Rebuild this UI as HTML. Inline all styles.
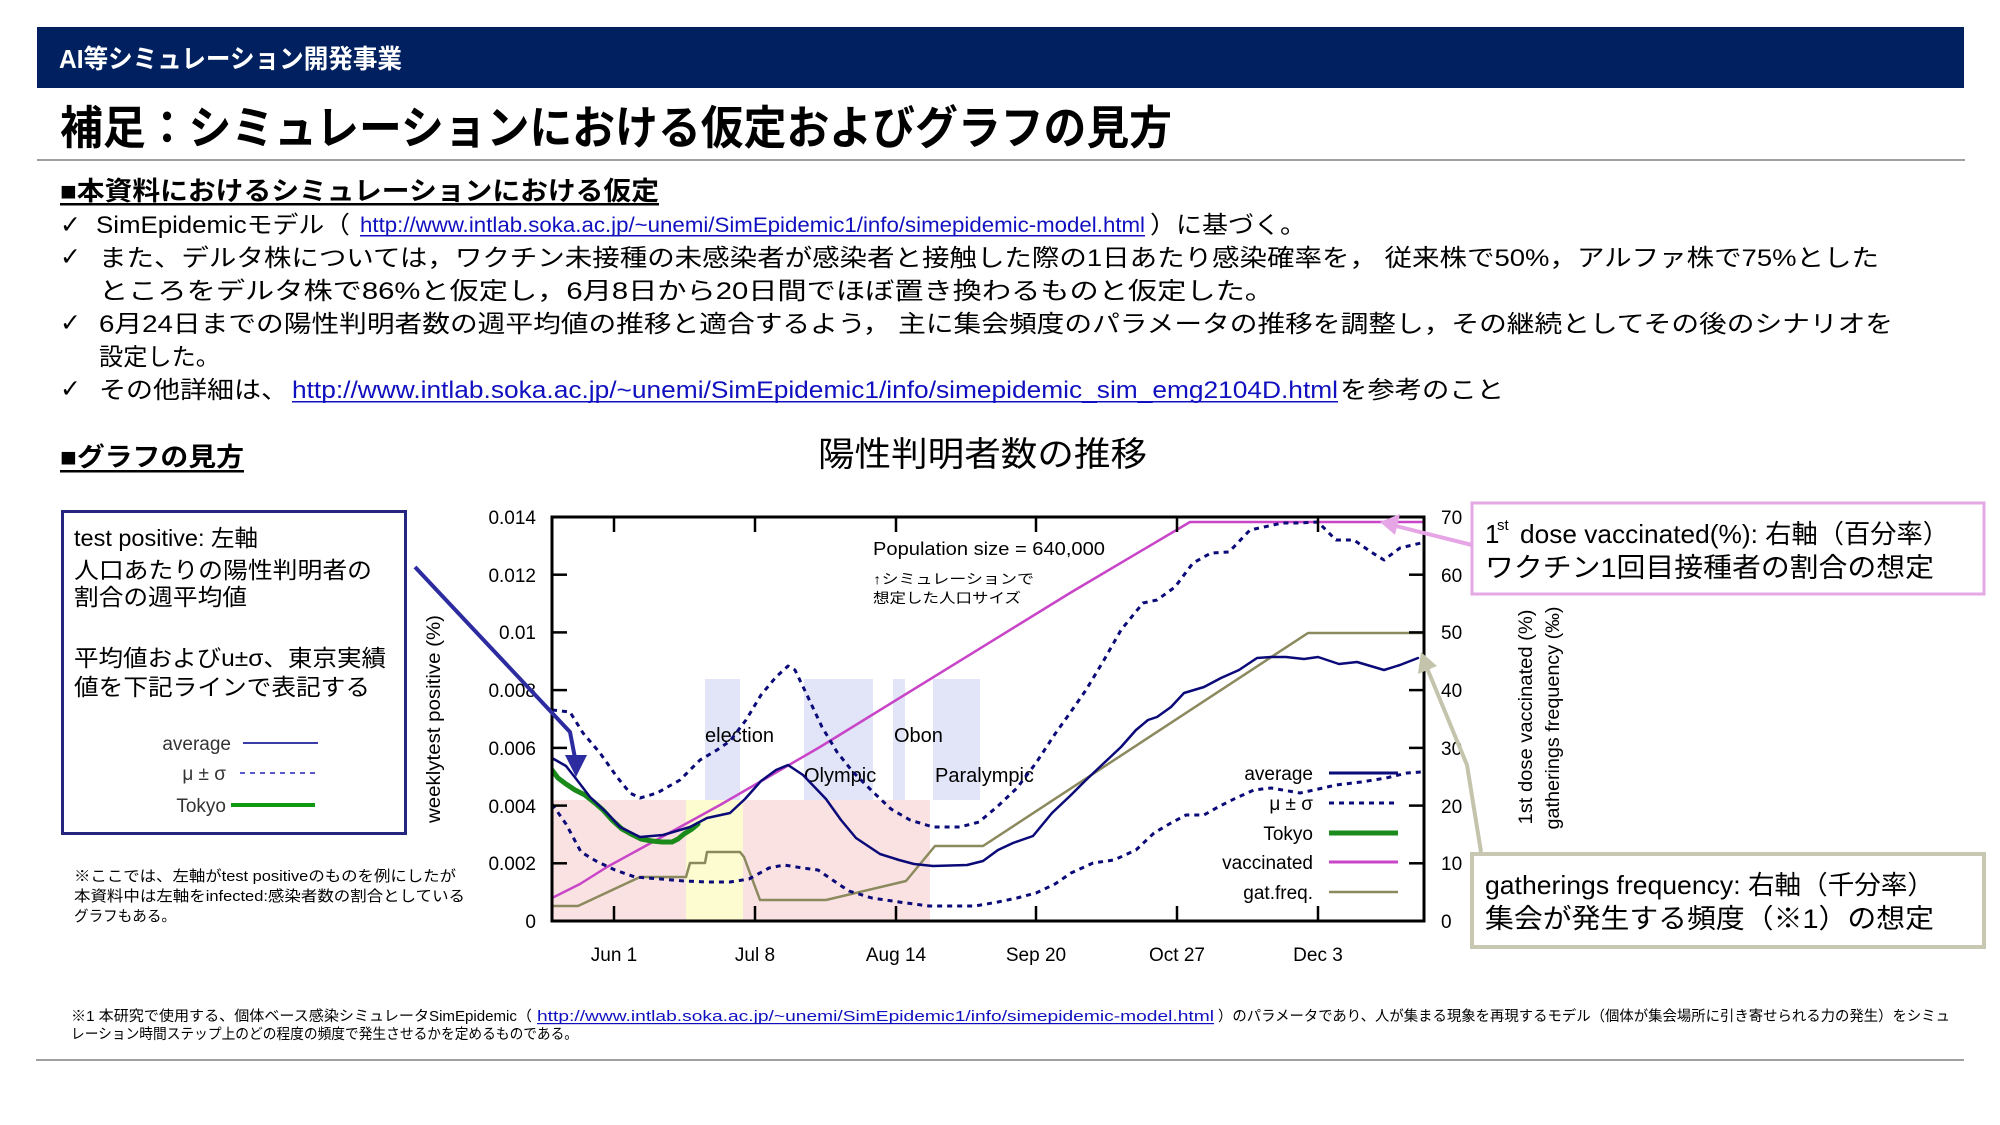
<!DOCTYPE html>
<html><head><meta charset="utf-8"><style>
html,body{margin:0;padding:0;background:#fff;}
svg{display:block;}
text{font-family:"Liberation Sans","Noto Sans CJK JP",sans-serif;}
</style></head><body>
<svg width="2000" height="1125" viewBox="0 0 2000 1125" xmlns="http://www.w3.org/2000/svg">
<rect x="0" y="0" width="2000" height="1125" fill="#fff"/>
<!-- header -->
<rect x="37" y="27" width="1927" height="61" fill="#002060"/>
<text x="59" y="68" font-size="26" font-weight="bold" fill="#fff" textLength="343" lengthAdjust="spacingAndGlyphs">AI等シミュレーション開発事業</text>
<text x="60" y="144" font-size="46" font-weight="bold" fill="#000" textLength="1112" lengthAdjust="spacingAndGlyphs">補足：シミュレーションにおける仮定およびグラフの見方</text>
<rect x="37" y="159" width="1928" height="2" fill="#a0a0a0"/>

<!-- section 1 -->
<text x="60" y="200" font-size="26" font-weight="bold" fill="#000" textLength="599" lengthAdjust="spacingAndGlyphs">■本資料におけるシミュレーションにおける仮定</text>
<rect x="60" y="203" width="599" height="2.5" fill="#000"/>

<g font-size="24" fill="#000">
<text x="60" y="233" font-size="25" font-weight="bold" style="font-family:'DejaVu Sans',sans-serif">✓</text>
<text x="96" y="233" textLength="254" lengthAdjust="spacingAndGlyphs">SimEpidemicモデル（</text>
<text x="360" y="232" font-size="21" fill="#1010c0" textLength="785" lengthAdjust="spacingAndGlyphs">http://www.intlab.soka.ac.jp/~unemi/SimEpidemic1/info/simepidemic-model.html</text>
<rect x="360" y="235" width="785" height="1.5" fill="#1010c0"/>
<text x="1150" y="233" textLength="156" lengthAdjust="spacingAndGlyphs">）に基づく。</text>

<text x="60" y="265" font-size="25" font-weight="bold" style="font-family:'DejaVu Sans',sans-serif">✓</text>
<text x="99" y="266" textLength="1780" lengthAdjust="spacingAndGlyphs">また、デルタ株については，ワクチン未接種の未感染者が感染者と接触した際の1日あたり感染確率を， 従来株で50%，アルファ株で75%とした</text>
<text x="99" y="299" textLength="1175" lengthAdjust="spacingAndGlyphs">ところをデルタ株で86%と仮定し，6月8日から20日間でほぼ置き換わるものと仮定した。</text>

<text x="60" y="331" font-size="25" font-weight="bold" style="font-family:'DejaVu Sans',sans-serif">✓</text>
<text x="99" y="332" textLength="1794" lengthAdjust="spacingAndGlyphs">6月24日までの陽性判明者数の週平均値の推移と適合するよう， 主に集会頻度のパラメータの推移を調整し，その継続としてその後のシナリオを</text>
<text x="99" y="365" textLength="121" lengthAdjust="spacingAndGlyphs">設定した。</text>

<text x="60" y="397" font-size="25" font-weight="bold" style="font-family:'DejaVu Sans',sans-serif">✓</text>
<text x="99" y="398" textLength="189" lengthAdjust="spacingAndGlyphs">その他詳細は、</text>
<text x="292" y="398" fill="#1010c0" textLength="1046" lengthAdjust="spacingAndGlyphs">http://www.intlab.soka.ac.jp/~unemi/SimEpidemic1/info/simepidemic_sim_emg2104D.html</text>
<rect x="292" y="401" width="1046" height="1.5" fill="#1010c0"/>
<text x="1340" y="398" textLength="164" lengthAdjust="spacingAndGlyphs">を参考のこと</text>
</g>

<!-- section 2 -->
<text x="60" y="466" font-size="26" font-weight="bold" fill="#000" textLength="184" lengthAdjust="spacingAndGlyphs">■グラフの見方</text>
<rect x="60" y="470" width="184" height="2.5" fill="#000"/>

<text x="818" y="466" font-size="34" fill="#000" textLength="329" lengthAdjust="spacingAndGlyphs">陽性判明者数の推移</text>

<!-- left box -->
<rect x="62.5" y="511.5" width="343" height="322" fill="#fff" stroke="#262680" stroke-width="3"/>
<g font-size="23" fill="#000">
<text x="74" y="546" textLength="184" lengthAdjust="spacingAndGlyphs">test positive: 左軸</text>
<text x="74" y="578" textLength="298" lengthAdjust="spacingAndGlyphs">人口あたりの陽性判明者の</text>
<text x="74" y="605" textLength="173" lengthAdjust="spacingAndGlyphs">割合の週平均値</text>
<text x="74" y="666" textLength="312" lengthAdjust="spacingAndGlyphs">平均値およびu±σ、東京実績</text>
<text x="74" y="695" textLength="296" lengthAdjust="spacingAndGlyphs">値を下記ラインで表記する</text>
</g>
<g font-size="19" fill="#333" text-anchor="end">
<text x="231" y="750">average</text>
<text x="226" y="780">μ ± σ</text>
<text x="226" y="812">Tokyo</text>
</g>
<line x1="243" y1="743" x2="318" y2="743" stroke="#3c3ca8" stroke-width="2"/>
<line x1="240" y1="773" x2="315" y2="773" stroke="#5a5ac8" stroke-width="2" stroke-dasharray="5 5"/>
<line x1="231" y1="805" x2="315" y2="805" stroke="#119911" stroke-width="4"/>

<g font-size="15" fill="#000">
<text x="74" y="881" textLength="382" lengthAdjust="spacingAndGlyphs">※ここでは、左軸がtest positiveのものを例にしたが</text>
<text x="74" y="901" textLength="391" lengthAdjust="spacingAndGlyphs">本資料中は左軸をinfected:感染者数の割合としている</text>
<text x="74" y="921" textLength="102" lengthAdjust="spacingAndGlyphs">グラフもある。</text>
</g>

<!-- axis titles -->
<text transform="translate(440,719) rotate(-90)" text-anchor="middle" font-size="19" fill="#000" textLength="208" lengthAdjust="spacingAndGlyphs">weeklytest positive (%)</text>
<text transform="translate(1532,717) rotate(-90)" text-anchor="middle" font-size="19" fill="#000" textLength="215" lengthAdjust="spacingAndGlyphs">1st dose vaccinated (%)</text>
<text transform="translate(1559,718) rotate(-90)" text-anchor="middle" font-size="19" fill="#000" textLength="223" lengthAdjust="spacingAndGlyphs">gatherings frequency (‰)</text>

<!-- chart regions -->
<defs><clipPath id="pc"><rect x="552" y="517" width="872" height="404"/></clipPath></defs>
<rect x="552" y="800" width="378" height="121" fill="#fbe2e2"/>
<rect x="686" y="800" width="57" height="121" fill="#fdfcd0"/>
<g fill="#e2e5f8">
<rect x="705" y="679" width="35" height="121"/>
<rect x="804" y="679" width="69" height="121"/>
<rect x="893" y="679" width="12" height="121"/>
<rect x="933" y="679" width="47" height="121"/>
</g>
<g font-size="20" fill="#000">
<text x="705" y="742">election</text>
<text x="804" y="782">Olympic</text>
<text x="894" y="742">Obon</text>
<text x="935" y="782">Paralympic</text>
</g>
<text x="873" y="555" font-size="18" fill="#000" textLength="232" lengthAdjust="spacingAndGlyphs">Population size = 640,000</text>
<text x="873" y="584" font-size="14" fill="#000" textLength="161" lengthAdjust="spacingAndGlyphs">↑シミュレーションで</text>
<text x="873" y="603" font-size="14" fill="#000" textLength="148" lengthAdjust="spacingAndGlyphs">想定した人口サイズ</text>

<!-- series -->
<g clip-path="url(#pc)" fill="none" stroke-linejoin="round" stroke-linecap="round">
<path d="M552,906 L578,906 L640,877 L686,877 L690,863 L705,863 L707,852 L740,852 L744,857 L760,900 L826,900 L906,881 L935,846 L983,846 L1308,633 L1424,633" stroke="#8b8a5e" stroke-width="2.5"/>
<path d="M552,898 L580,884 L607,867 L660,838 L720,805 L820,747 L1070,593 L1190,522 L1424,522" stroke="#c845c8" stroke-width="2.5"/>
<path d="M552,710 L570,712 L583,733 L600,753 L617,777 L630,793 L640,798 L657,793 L680,780 L700,760 L717,750 L730,741 L746,720 L761,695 L776,677 L788,666 L795,670 L807,695 L822,727 L837,752 L853,772 L872,791 L891,809 L910,820 L933,827 L960,827 L979,822 L998,806 L1017,788 L1036,763 L1055,734 L1070,713 L1086,690 L1104,660 L1121,630 L1143,603 L1157,600 L1175,587 L1193,563 L1211,553 L1229,552 L1250,530 L1264,527 L1282,523 L1300,523 L1318,522 L1336,540 L1354,540 L1371,552 L1384,560 L1400,548 L1421,543" stroke="#0a0a78" stroke-width="3" stroke-dasharray="5 5" stroke-linecap="butt"/>
<path d="M552,804 L566,824 L581,852 L596,861 L615,870 L635,877 L661,879 L684,881 L707,882 L730,882 L749,879 L769,868 L784,865 L803,868 L818,870 L834,881 L849,891 L872,898 L899,902 L929,906 L952,906 L975,906 L998,902 L1017,898 L1036,893 L1055,884 L1071,873 L1093,863 L1114,860 L1136,850 L1154,833 L1171,823 L1186,815 L1204,815 L1218,807 L1236,798 L1254,790 L1271,788 L1300,793 L1314,790 L1336,785 L1361,782 L1386,778 L1407,773 L1421,772" stroke="#0a0a78" stroke-width="3" stroke-dasharray="5 5" stroke-linecap="butt"/>
<path d="M552,770 L558,778 L566,784 L575,790 L585,795 L595,803 L603,810 L612,820 L622,829 L631,834 L641,839 L652,841 L662,842 L672,842 L678,839 L684,834 L692,829 L698,824" stroke="#1a8a1a" stroke-width="5"/>
<path d="M552,758 L566,766 L577,780 L590,797 L607,813 L620,827 L640,837 L663,835 L690,827 L707,818 L730,813 L745,799 L761,781 L776,770 L788,765 L803,775 L826,799 L841,820 L856,838 L880,854 L899,860 L914,864 L933,866 L967,865 L983,861 L998,850 L1013,843 L1033,836 L1052,813 L1071,795 L1086,780 L1104,763 L1121,747 L1136,730 L1148,720 L1157,717 L1171,707 L1184,693 L1204,687 L1221,678 L1239,670 L1257,658 L1271,657 L1286,657 L1304,659 L1318,657 L1339,664 L1357,662 L1384,670 L1400,665 L1418,658" stroke="#0a0a78" stroke-width="2.5"/>
</g>

<!-- axes -->
<rect x="552" y="517" width="872" height="404" fill="none" stroke="#000" stroke-width="3"/>
<g stroke="#000" stroke-width="2.5">
<line x1="552" y1="574.7" x2="567" y2="574.7"/><line x1="552" y1="632.4" x2="567" y2="632.4"/>
<line x1="552" y1="690.1" x2="567" y2="690.1"/><line x1="552" y1="747.9" x2="567" y2="747.9"/>
<line x1="552" y1="805.6" x2="567" y2="805.6"/><line x1="552" y1="863.3" x2="567" y2="863.3"/>
<line x1="1409" y1="574.7" x2="1424" y2="574.7"/><line x1="1409" y1="632.4" x2="1424" y2="632.4"/>
<line x1="1409" y1="690.1" x2="1424" y2="690.1"/><line x1="1409" y1="747.9" x2="1424" y2="747.9"/>
<line x1="1409" y1="805.6" x2="1424" y2="805.6"/><line x1="1409" y1="863.3" x2="1424" y2="863.3"/>
<line x1="614" y1="517" x2="614" y2="532"/><line x1="755" y1="517" x2="755" y2="532"/>
<line x1="896" y1="517" x2="896" y2="532"/><line x1="1036" y1="517" x2="1036" y2="532"/>
<line x1="1177" y1="517" x2="1177" y2="532"/><line x1="1318" y1="517" x2="1318" y2="532"/>
<line x1="614" y1="906" x2="614" y2="921"/><line x1="755" y1="906" x2="755" y2="921"/>
<line x1="896" y1="906" x2="896" y2="921"/><line x1="1036" y1="906" x2="1036" y2="921"/>
<line x1="1177" y1="906" x2="1177" y2="921"/><line x1="1318" y1="906" x2="1318" y2="921"/>
</g>
<g font-size="19" fill="#000" text-anchor="end">
<text x="536" y="524">0.014</text><text x="536" y="582">0.012</text>
<text x="536" y="639">0.01</text><text x="536" y="697">0.008</text>
<text x="536" y="755">0.006</text><text x="536" y="813">0.004</text>
<text x="536" y="870">0.002</text><text x="536" y="928">0</text>
</g>
<g font-size="19" fill="#000">
<text x="1441" y="524">70</text><text x="1441" y="582">60</text>
<text x="1441" y="639">50</text><text x="1441" y="697">40</text>
<text x="1441" y="755">30</text><text x="1441" y="813">20</text>
<text x="1441" y="870">10</text><text x="1441" y="928">0</text>
</g>
<g font-size="19" fill="#000" text-anchor="middle">
<text x="614" y="961">Jun 1</text><text x="755" y="961">Jul 8</text>
<text x="896" y="961">Aug 14</text><text x="1036" y="961">Sep 20</text>
<text x="1177" y="961">Oct 27</text><text x="1318" y="961">Dec 3</text>
</g>

<!-- plot legend -->
<g font-size="19" fill="#000" text-anchor="end">
<text x="1313" y="780">average</text>
<text x="1313" y="810">μ ± σ</text>
<text x="1313" y="840">Tokyo</text>
<text x="1313" y="869">vaccinated</text>
<text x="1313" y="899">gat.freq.</text>
</g>
<line x1="1329" y1="773" x2="1398" y2="773" stroke="#0a0a78" stroke-width="3"/>
<line x1="1329" y1="803" x2="1398" y2="803" stroke="#0a0a78" stroke-width="3" stroke-dasharray="5 5"/>
<line x1="1329" y1="833" x2="1398" y2="833" stroke="#1a8a1a" stroke-width="5"/>
<line x1="1329" y1="862" x2="1398" y2="862" stroke="#c845c8" stroke-width="3"/>
<line x1="1329" y1="892" x2="1398" y2="892" stroke="#8b8a5e" stroke-width="2.5"/>

<!-- arrows -->
<polyline points="415,567 570,732 575,758" fill="none" stroke="#2c2ca0" stroke-width="4" stroke-linejoin="round"/>
<polygon points="576,777 565,755 587,755" fill="#2c2ca0"/>
<line x1="1472" y1="545" x2="1396" y2="526" stroke="#e6a6e6" stroke-width="4"/>
<polygon points="1380,522 1400,514 1395,535" fill="#e6a6e6"/>
<polyline points="1481,852 1467,765 1427,668" fill="none" stroke="#c4c4ac" stroke-width="4" stroke-linejoin="round"/>
<polygon points="1421,652 1418,674 1437,666" fill="#c4c4ac"/>

<!-- right boxes -->
<rect x="1472" y="503" width="512" height="91" fill="#fff" stroke="#e4a8e4" stroke-width="3"/>
<text x="1485" y="543" font-size="26" fill="#000">1</text>
<text x="1497" y="530" font-size="15" fill="#000">st</text>
<text x="1520" y="543" font-size="26" fill="#000" textLength="429" lengthAdjust="spacingAndGlyphs">dose vaccinated(%): 右軸（百分率）</text>
<text x="1485" y="577" font-size="27" fill="#000" textLength="449" lengthAdjust="spacingAndGlyphs">ワクチン1回目接種者の割合の想定</text>

<rect x="1472" y="854" width="512" height="93" fill="#fff" stroke="#c8c8b2" stroke-width="4"/>
<text x="1485" y="894" font-size="26" fill="#000" textLength="449" lengthAdjust="spacingAndGlyphs">gatherings frequency: 右軸（千分率）</text>
<text x="1485" y="928" font-size="27" fill="#000" textLength="449" lengthAdjust="spacingAndGlyphs">集会が発生する頻度（※1）の想定</text>

<!-- footer -->
<g font-size="14.5" fill="#000">
<text x="71" y="1021" textLength="461" lengthAdjust="spacingAndGlyphs">※1 本研究で使用する、個体ベース感染シミュレータSimEpidemic（</text>
<text x="537" y="1021" fill="#1010c0" textLength="677" lengthAdjust="spacingAndGlyphs">http://www.intlab.soka.ac.jp/~unemi/SimEpidemic1/info/simepidemic-model.html</text>
<rect x="537" y="1023" width="677" height="1.2" fill="#1010c0"/>
<text x="1218" y="1021" textLength="732" lengthAdjust="spacingAndGlyphs">）のパラメータであり、人が集まる現象を再現するモデル（個体が集会場所に引き寄せられる力の発生）をシミュ</text>
<text x="71" y="1039" textLength="507" lengthAdjust="spacingAndGlyphs">レーション時間ステップ上のどの程度の頻度で発生させるかを定めるものである。</text>
</g>
<rect x="36" y="1059" width="1928" height="2" fill="#a0a0a0"/>
</svg>
</body></html>
